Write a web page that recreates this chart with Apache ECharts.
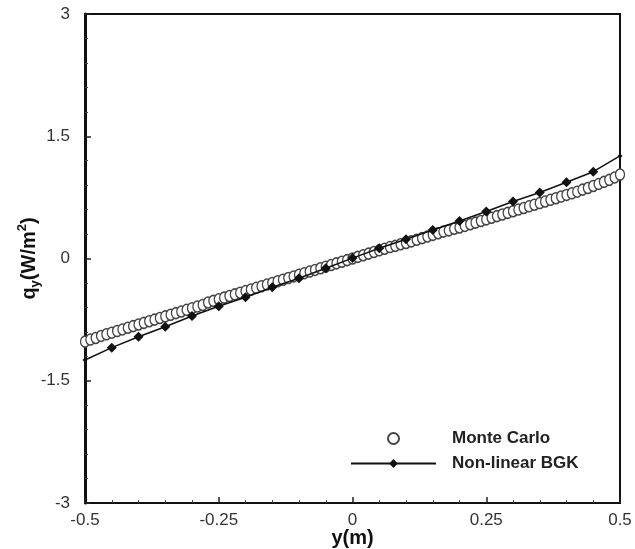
<!DOCTYPE html>
<html>
<head>
<meta charset="utf-8">
<script src="https://cdn.jsdelivr.net/npm/echarts@6/dist/echarts.min.js"></script>
<style>
html,body{margin:0;padding:0;background:#fff;}
#main{width:635px;height:549px;}
</style>
</head>
<body>
<div id="main"></div>
<script>
// Tick labels
var xTicks = [-0.5, -0.25, 0, 0.25, 0.5];
var yTicks = [-3, -1.5, 0, 1.5, 3];

// Monte Carlo
var mcX = [-0.50,-0.49,-0.48,-0.47,-0.46,-0.45,-0.44,-0.43,-0.42,-0.41,
  -0.40,-0.39,-0.38,-0.37,-0.36,-0.35,-0.34,-0.33,-0.32,-0.31,
  -0.30,-0.29,-0.28,-0.27,-0.26,-0.25,-0.24,-0.23,-0.22,-0.21,
  -0.20,-0.19,-0.18,-0.17,-0.16,-0.15,-0.14,-0.13,-0.12,-0.11,
  -0.10,-0.09,-0.08,-0.07,-0.06,-0.05,-0.04,-0.03,-0.02,-0.01,
  0.00,0.01,0.02,0.03,0.04,0.05,0.06,0.07,0.08,0.09,
  0.10,0.11,0.12,0.13,0.14,0.15,0.16,0.17,0.18,0.19,
  0.20,0.21,0.22,0.23,0.24,0.25,0.26,0.27,0.28,0.29,
  0.30,0.31,0.32,0.33,0.34,0.35,0.36,0.37,0.38,0.39,
  0.40,0.41,0.42,0.43,0.44,0.45,0.46,0.47,0.48,0.49,0.50];
var mcY = [-1.02,-0.995,-0.975,-0.95,-0.93,-0.91,-0.89,-0.87,-0.85,-0.83,
  -0.81,-0.79,-0.77,-0.75,-0.73,-0.71,-0.69,-0.67,-0.65,-0.63,
  -0.61,-0.59,-0.57,-0.54,-0.52,-0.50,-0.48,-0.46,-0.44,-0.42,
  -0.40,-0.38,-0.36,-0.34,-0.32,-0.30,-0.28,-0.26,-0.24,-0.22,
  -0.20,-0.18,-0.16,-0.14,-0.12,-0.10,-0.08,-0.06,-0.04,-0.02,
  0.00,0.02,0.04,0.06,0.08,0.10,0.12,0.14,0.155,0.175,
  0.19,0.21,0.23,0.25,0.27,0.29,0.31,0.33,0.345,0.365,
  0.38,0.40,0.42,0.44,0.46,0.48,0.50,0.52,0.54,0.56,
  0.58,0.60,0.62,0.64,0.66,0.68,0.70,0.72,0.74,0.76,
  0.78,0.80,0.82,0.845,0.865,0.89,0.915,0.94,0.965,0.995,1.03];

// Non-linear BGK
var bgkX = [-0.50,-0.45,-0.40,-0.35,-0.30,-0.25,-0.20,-0.15,-0.10,-0.05,
  0.00,0.05,0.10,0.15,0.20,0.25,0.30,0.35,0.40,0.45,0.50];
var bgkY = [-1.245,-1.094,-0.96,-0.837,-0.705,-0.585,-0.476,-0.353,-0.243,-0.12,
  0.005,0.125,0.236,0.35,0.46,0.577,0.70,0.81,0.935,1.065,1.258];

var mcData = mcX.map(function(x,i){return [x, mcY[i]];});
var bgkData = bgkX.map(function(x,i){return [x, bgkY[i]];});

var chart = echarts.init(document.getElementById('main'), null, {renderer:'canvas'});
var FONT = '"Liberation Sans", Arial, sans-serif';

chart.setOption({
  backgroundColor: '#fff',
  animation: false,
  grid: {left: 85, right: 15, top: 14, bottom: 46, outerBoundsMode: 'none', containLabel: false,
    show: true, borderColor: '#111', borderWidth: 2, backgroundColor: 'transparent'},
  legend: {
    orient: 'vertical', left: 350, top: 430, itemWidth: 85, itemHeight: 11, itemGap: 8,
    padding: 0,
    textStyle: {fontFamily: FONT, fontSize: 17, fontWeight: 'bold', color: '#222', padding: [0,0,0,11]},
    data: [{name: 'Monte Carlo', icon: 'circle'}, {name: 'Non-linear BGK'}]
  },
  xAxis: {
    type: 'value', min: xTicks[0], max: xTicks[xTicks.length-1], interval: 0.25,
    name: 'y(m)', nameLocation: 'middle', nameGap: 25, nameMoveOverlap: false,
    nameTextStyle: {fontFamily: FONT, fontSize: 20, fontWeight: 'bold', color: '#111'},
    axisLine: {show: true, onZero: false, lineStyle: {color: '#111', width: 2}},
    axisTick: {show: true, inside: true, length: 6, lineStyle: {color: '#222', width: 1.5}},
    minorTick: {show: true, splitNumber: 5, length: 3, lineStyle: {color: '#444', width: 1}},
    splitLine: {show: false},
    axisLabel: {fontFamily: FONT, fontSize: 17, color: '#333', margin: 9,
      formatter: function(v){ return String(v); }}
  },
  yAxis: {
    type: 'value', min: yTicks[0], max: yTicks[yTicks.length-1], interval: 1.5,
    name: '{a|q}{sub|y}{a|(W/m}{sup|2}{a|)}', nameLocation: 'middle', nameGap: 43, nameRotate: 90,
    nameMoveOverlap: false,
    nameTextStyle: {
      rich: {
        a: {fontFamily: FONT, fontSize: 20, fontWeight: 'bold', color: '#111', lineHeight: 26},
        sub: {fontFamily: FONT, fontSize: 13, fontWeight: 'bold', color: '#111', lineHeight: 13, verticalAlign: 'bottom'},
        sup: {fontFamily: FONT, fontSize: 13, fontWeight: 'bold', color: '#111', lineHeight: 13, verticalAlign: 'top'}
      }
    },
    axisLine: {show: true, onZero: false, lineStyle: {color: '#111', width: 3}},
    axisTick: {show: true, inside: true, length: 6, lineStyle: {color: '#222', width: 1.5}},
    minorTick: {show: true, splitNumber: 5, length: 3, lineStyle: {color: '#444', width: 1}},
    splitLine: {show: false},
    axisLabel: {fontFamily: FONT, fontSize: 17, color: '#333', margin: 15,
      formatter: function(v){ return String(v); }}
  },
  series: [
    {
      name: 'Monte Carlo', type: 'scatter', data: mcData,
      symbol: 'circle', symbolSize: [9, 11],
      itemStyle: {color: '#fff', borderColor: '#444', borderWidth: 1.4, opacity: 1},
      z: 2
    },
    {
      name: 'Non-linear BGK', type: 'line', data: bgkData,
      symbol: 'diamond',
      symbolSize: function(v, p){ return (p.dataIndex === 0 || p.dataIndex === bgkX.length-1) ? 5 : 10; },
      showAllSymbol: true,
      lineStyle: {color: '#111', width: 1.5},
      itemStyle: {color: '#111'},
      z: 3
    }
  ]
});
</script>
</body>
</html>
